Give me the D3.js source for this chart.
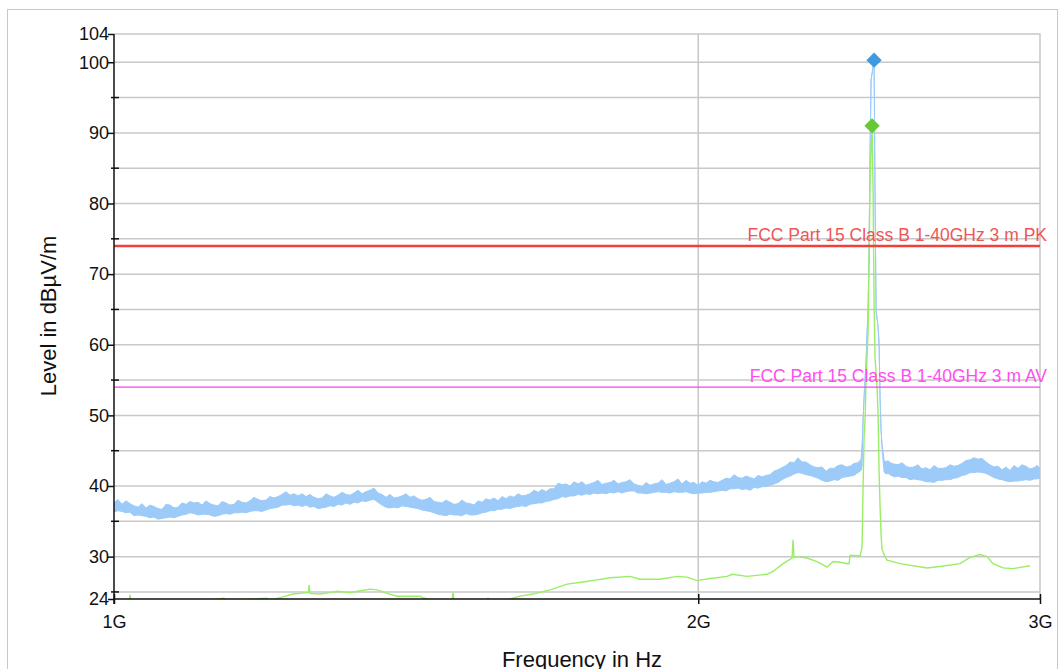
<!DOCTYPE html>
<html>
<head>
<meta charset="utf-8">
<script src="https://cdn.jsdelivr.net/npm/d3@7"></script>
<style>
  body { margin: 0; background: #fff; }
  svg text { font-family: "Liberation Sans", Arial, sans-serif; }
</style>
</head>
<body>
<svg class="canvas"></svg>
<script>
// *** DATA ***
// peak trace (blue): [frequency MHz, upper edge, lower edge] of the noisy band, dBuV/m
var peakTrace = [
  [1000.0, 37.6, 36.3], [1004.7, 38.1, 36.5], [1009.5, 37.4, 36.4], [1014.3, 37.9, 36.2],
  [1019.2, 37.5, 36.3], [1024.0, 37.2, 35.8], [1028.9, 37.0, 35.9], [1033.8, 37.5, 35.8],
  [1038.7, 36.9, 35.7], [1043.6, 37.3, 35.5], [1048.6, 37.1, 35.6], [1053.6, 36.8, 35.3],
  [1058.6, 36.7, 35.4], [1063.6, 37.4, 35.5], [1068.7, 37.3, 35.6], [1073.8, 36.9, 35.5],
  [1078.9, 37.0, 35.7], [1084.0, 37.6, 35.9], [1089.2, 37.4, 36.0], [1094.4, 37.8, 36.2],
  [1099.6, 37.6, 36.1], [1104.8, 37.7, 35.9], [1110.0, 37.3, 36.0], [1115.3, 37.9, 36.0],
  [1120.6, 37.5, 35.9], [1126.0, 37.3, 35.7], [1131.3, 37.2, 35.8], [1136.7, 37.8, 36.0],
  [1142.1, 37.6, 36.1], [1147.5, 37.3, 36.0], [1153.0, 37.4, 36.2], [1158.5, 38.0, 36.2],
  [1164.0, 37.7, 36.3], [1169.5, 37.6, 36.2], [1175.1, 37.9, 36.4], [1180.7, 38.4, 36.5],
  [1186.3, 38.1, 36.5], [1191.9, 37.9, 36.4], [1197.6, 38.0, 36.6], [1203.3, 38.5, 36.8],
  [1209.0, 38.3, 36.9], [1214.8, 38.5, 37.0], [1220.6, 38.8, 37.3], [1226.4, 39.2, 37.3],
  [1232.2, 38.7, 37.4], [1238.1, 38.9, 37.2], [1244.0, 38.6, 37.3], [1249.9, 38.9, 37.1],
  [1255.8, 38.5, 37.3], [1261.8, 38.8, 37.0], [1267.8, 38.4, 37.1], [1273.8, 38.2, 36.8],
  [1279.9, 38.3, 36.9], [1286.0, 38.9, 37.0], [1292.1, 38.6, 37.2], [1298.2, 38.4, 37.1],
  [1304.4, 38.7, 37.4], [1310.6, 39.1, 37.3], [1316.9, 38.8, 37.6], [1323.1, 38.7, 37.4],
  [1329.4, 39.0, 37.7], [1335.7, 39.4, 37.6], [1342.1, 38.9, 37.9], [1348.5, 39.2, 37.8],
  [1354.9, 39.4, 38.0], [1361.3, 39.7, 38.1], [1367.8, 39.0, 37.7], [1374.3, 38.8, 37.3],
  [1380.9, 38.4, 37.0], [1387.4, 38.8, 36.9], [1394.0, 38.3, 37.0], [1400.6, 38.4, 36.9],
  [1407.3, 38.6, 37.2], [1414.0, 38.9, 37.1], [1420.8, 38.4, 37.0], [1427.5, 38.6, 36.9],
  [1434.3, 38.2, 36.8], [1441.1, 38.0, 36.6], [1448.0, 38.1, 36.5], [1454.9, 38.4, 36.4],
  [1461.8, 37.8, 36.2], [1468.8, 37.7, 36.0], [1475.8, 37.6, 35.9], [1482.8, 38.0, 35.8],
  [1489.8, 37.7, 36.0], [1496.9, 37.4, 35.9], [1504.0, 37.5, 35.9], [1511.2, 38.0, 35.8],
  [1518.4, 37.6, 36.1], [1525.6, 37.5, 35.9], [1532.9, 37.3, 35.9], [1540.2, 37.9, 36.0],
  [1547.5, 37.7, 36.2], [1554.8, 38.2, 36.3], [1562.2, 38.0, 36.5], [1569.6, 38.3, 36.5],
  [1577.1, 37.9, 36.7], [1584.6, 38.5, 36.7], [1592.2, 38.2, 36.9], [1599.7, 38.6, 36.8],
  [1607.3, 38.4, 37.0], [1615.0, 38.9, 37.1], [1622.7, 38.6, 37.2], [1630.4, 38.7, 37.1],
  [1638.1, 38.9, 37.4], [1645.9, 39.4, 37.5], [1653.8, 39.1, 37.6], [1661.6, 39.5, 37.6],
  [1669.5, 39.2, 37.8], [1677.5, 39.6, 37.9], [1685.5, 39.6, 38.1], [1693.5, 40.4, 38.2],
  [1701.5, 40.2, 38.5], [1709.6, 40.3, 38.4], [1717.8, 40.0, 38.6], [1725.9, 40.6, 38.6],
  [1734.1, 40.3, 38.8], [1742.4, 40.6, 38.7], [1750.7, 40.1, 38.9], [1759.0, 40.3, 38.8],
  [1767.4, 40.5, 39.0], [1775.8, 40.8, 38.9], [1784.2, 40.2, 39.0], [1792.7, 40.4, 38.9],
  [1801.3, 40.5, 39.1], [1809.8, 40.8, 39.0], [1818.4, 40.3, 39.2], [1827.1, 40.5, 39.0],
  [1835.8, 40.6, 39.2], [1844.5, 40.9, 39.3], [1853.3, 40.3, 39.3], [1862.1, 40.1, 39.0],
  [1870.9, 39.9, 39.0], [1879.8, 40.5, 38.9], [1888.8, 40.1, 39.0], [1897.8, 40.3, 39.1],
  [1906.8, 40.4, 39.2], [1915.9, 40.9, 39.1], [1925.0, 40.2, 39.1], [1934.2, 40.4, 39.0],
  [1943.4, 40.6, 39.2], [1952.6, 41.0, 39.1], [1961.9, 40.3, 39.1], [1971.2, 40.8, 39.2],
  [1980.6, 40.4, 39.0], [1990.0, 40.5, 38.9], [1999.5, 40.1, 39.0], [2009.0, 40.6, 39.0],
  [2018.6, 40.4, 39.1], [2028.2, 40.8, 39.1], [2037.8, 40.6, 39.2], [2047.5, 40.5, 39.3],
  [2057.3, 40.8, 39.4], [2067.1, 41.1, 39.3], [2076.9, 41.0, 39.6], [2086.8, 41.6, 39.6],
  [2096.7, 41.2, 39.7], [2106.7, 41.1, 39.5], [2116.7, 41.4, 39.6], [2126.8, 41.2, 39.4],
  [2136.9, 41.0, 39.8], [2147.1, 41.5, 39.7], [2157.3, 41.3, 39.9], [2167.5, 41.5, 39.9],
  [2177.8, 41.6, 40.1], [2188.2, 42.1, 40.3], [2198.6, 42.3, 40.5], [2209.1, 42.6, 40.9],
  [2219.6, 42.9, 41.2], [2230.1, 43.4, 41.4], [2240.7, 43.3, 41.7], [2251.4, 44.0, 41.9],
  [2262.1, 43.4, 41.8], [2272.9, 43.4, 41.6], [2283.7, 43.0, 41.5], [2294.6, 42.7, 41.3],
  [2305.5, 42.6, 41.1], [2316.5, 42.7, 40.8], [2327.5, 42.1, 40.6], [2338.6, 42.5, 40.7],
  [2349.7, 42.5, 40.9], [2360.9, 42.9, 40.8], [2372.1, 43.0, 41.2], [2383.4, 42.7, 41.3],
  [2394.7, 42.8, 41.4], [2406.1, 43.2, 41.5], [2417.6, 43.3, 41.9], [2426.2, 43.8, 42.2],
  // carrier
  [2429.1, 46.0, 42.8], [2432.0, 49.3, 49.3], [2434.9, 52.6, 52.6], [2440.7, 57.8, 57.8],
  [2443.6, 61.7, 61.7], [2446.5, 64.9, 64.9], [2449.4, 73.4, 73.4], [2452.3, 87.6, 87.6],
  [2455.2, 97.5, 97.5], [2463.9, 100.3, 100.3], [2466.9, 80.5, 80.5], [2469.8, 64.9, 64.9],
  [2475.7, 62.5, 62.5], [2478.6, 60.2, 60.2], [2481.6, 52.2, 52.2], [2484.5, 47.9, 47.9],
  [2487.5, 45.8, 45.2],
  [2493.4, 43.7, 42.0], [2499.3, 43.4, 41.7], [2505.2, 43.6, 41.8], [2511.2, 43.3, 41.6],
  [2523.0, 43.1, 41.3], [2534.8, 43.0, 41.4], [2546.9, 43.3, 41.2], [2559.0, 42.8, 41.2],
  [2571.2, 42.6, 40.9], [2583.4, 42.7, 41.0], [2595.7, 43.0, 40.9], [2608.0, 42.4, 40.8],
  [2620.4, 42.6, 40.6], [2632.9, 42.3, 40.6], [2645.4, 42.9, 40.5], [2658.0, 42.5, 40.8],
  [2670.7, 42.5, 40.8], [2683.4, 42.6, 40.9], [2696.2, 43.0, 40.9], [2709.0, 42.8, 41.1],
  [2721.9, 42.9, 41.2], [2734.8, 43.2, 41.5], [2747.8, 43.6, 41.6], [2760.9, 43.7, 41.9],
  [2774.0, 44.0, 41.9], [2787.2, 43.8, 42.0], [2800.5, 43.9, 41.9], [2813.8, 43.4, 41.8],
  [2827.2, 43.0, 41.5], [2840.6, 42.7, 41.2], [2854.1, 42.8, 41.0], [2867.7, 42.3, 40.9],
  [2881.4, 42.7, 40.7], [2895.1, 42.2, 40.6], [2908.9, 42.9, 40.7], [2922.7, 42.5, 40.7],
  [2936.6, 43.0, 40.8], [2950.6, 42.8, 40.9], [2964.6, 42.4, 40.8], [2978.7, 42.6, 41.0],
  [2989.3, 42.9, 41.0], [3000.0, 42.5, 41.1]
];

// average trace (green), frequency in MHz / level in dBuV/m
var avgFreq = [
  1000.0, 1014.3, 1018.0, 1019.2, 1020.4, 1056.1, 1107.4, 1139.4, 1142.1, 1199.0,
  1201.9, 1210.5, 1222.0, 1236.6, 1246.9, 1257.3, 1259.6, 1260.3, 1261.8, 1276.9,
  1292.1, 1302.9, 1323.1, 1342.1, 1354.9, 1366.2, 1382.5, 1399.0, 1420.8, 1437.7,
  1442.8, 1454.9, 1493.3, 1495.1, 1496.9, 1556.6, 1558.5, 1560.3, 1590.2, 1599.7,
  1618.8, 1644.0, 1677.5, 1711.7, 1744.4, 1773.7, 1801.3, 1844.5, 1866.5, 1911.3,
  1950.3, 1973.5, 1997.1, 2028.2, 2069.5, 2081.8, 2119.2, 2170.1, 2185.6, 2211.7,
  2235.4, 2238.1, 2240.7, 2248.6, 2275.5, 2302.7, 2330.3, 2346.9, 2366.5, 2386.2,
  2391.9, 2394.7, 2423.4, 2429.1, 2432.0, 2434.9, 2437.8, 2440.7, 2446.5, 2449.4,
  2452.3, 2458.1, 2461.0, 2463.9, 2466.9, 2472.7, 2475.7, 2478.6, 2481.6, 2484.5,
  2487.5, 2493.4, 2502.0, 2540.9, 2623.6, 2664.4, 2728.3, 2760.9, 2793.9, 2817.2,
  2837.3, 2871.1, 2905.4, 2964.7
];
var avgLevel = [
  23.6, 23.7, 23.8, 24.6, 23.8, 23.6, 23.7, 24.1, 23.8, 24.1,
  23.9, 24.0, 24.3, 24.7, 24.8, 24.9, 24.9, 26.0, 24.8, 24.7,
  24.9, 25.1, 24.9, 25.2, 25.4, 25.3, 24.8, 24.4, 24.4, 24.4,
  24.2, 23.9, 23.9, 24.9, 23.9, 23.9, 24.1, 23.9, 23.9, 24.0,
  24.4, 24.7, 25.3, 26.1, 26.4, 26.7, 27.0, 27.2, 26.8, 26.8,
  27.2, 27.1, 26.6, 26.9, 27.2, 27.5, 27.2, 27.5, 27.9, 29.0,
  29.8, 32.4, 29.9, 30.0, 29.8, 29.3, 28.5, 29.3, 29.2, 29.0,
  29.0, 30.2, 30.1, 31.4, 40.0, 47.0, 49.3, 55.0, 62.0, 72.0,
  84.0, 91.0, 82.0, 66.0, 58.0, 54.0, 50.0, 42.0, 37.0, 33.0,
  31.0, 30.3, 29.5, 29.0, 28.4, 28.6, 29.0, 29.9, 30.3, 30.0,
  29.0, 28.4, 28.3, 28.7
];

// peak markers
var markerFreq = [2463.9, 2458.1];
var markerLevel = [100.3, 91.0];
var markerColor = ["#3f9be0", "#66c933"];

// limit lines
var limitLevel = [74, 54];
var limitLabel = ["FCC Part 15 Class B 1-40GHz 3 m PK", "FCC Part 15 Class B 1-40GHz 3 m AV"];

// axes
var xTicks = [1000, 2000, 3000];
var yLabelTicks = [24, 30, 40, 50, 60, 70, 80, 90, 100, 104];
var yMinorTicks = [25, 35, 45, 55, 65, 75, 85, 95];
var yGridLines = [25, 30, 35, 40, 45, 50, 55, 60, 65, 70, 75, 80, 85, 90, 95, 100];

// *** SVG STUFF ***
var width = 1063;
var height = 669;
var plotLeft = 114, plotRight = 1040, plotTop = 34, plotBottom = 599;

var x = d3.scaleLog().domain([1000, 3000]).range([plotLeft, plotRight]);
var y = d3.scaleLinear().domain([24, 104]).range([plotBottom, plotTop]);

var svg = d3.select(".canvas")
  .attr("width", width)
  .attr("height", height);

// outer frame
svg.append("rect")
  .attr("x", 7.5).attr("y", 9.5)
  .attr("width", 1050).attr("height", 700)
  .attr("fill", "none")
  .attr("stroke", "#c8c8c8");

svg.append("clipPath").attr("id", "plot")
  .append("rect")
  .attr("x", plotLeft).attr("y", plotTop)
  .attr("width", plotRight - plotLeft).attr("height", plotBottom - plotTop);

// grid
var grid = svg.append("g").attr("class", "grid");
grid.selectAll("line.h")
  .data(yGridLines)
  .enter()
    .append("line")
    .attr("x1", plotLeft).attr("x2", plotRight)
    .attr("y1", function(d) { return y(d); })
    .attr("y2", function(d) { return y(d); })
    .attr("stroke", "#c8c8c8")
    .attr("stroke-width", 1.5);

grid.append("line")
  .attr("x1", x(2000)).attr("x2", x(2000))
  .attr("y1", plotTop).attr("y2", plotBottom)
  .attr("stroke", "#c8c8c8").attr("stroke-width", 1.5);

// plot border top + right
grid.append("path")
  .attr("d", "M" + plotLeft + "," + plotTop + "H" + plotRight + "V" + plotBottom)
  .attr("fill", "none")
  .attr("stroke", "#c8c8c8").attr("stroke-width", 1.5);

// limit lines
var limits = svg.append("g").attr("class", "limits");
limits.selectAll("line")
  .data(limitLevel)
  .enter()
    .append("line")
    .attr("x1", plotLeft).attr("x2", plotRight)
    .attr("y1", function(d) { return y(d); })
    .attr("y2", function(d) { return y(d); })
    .attr("stroke", function(d, i) { return i == 0 ? "#f0403c" : "#ff3cf5"; })
    .attr("stroke-width", function(d, i) { return i == 0 ? 2.5 : 1.2; });

// traces
var traces = svg.append("g").attr("clip-path", "url(#plot)");

var band = d3.area()
  .x(function(d) { return x(d[0]); })
  .y0(function(d) { return y(d[2]); })
  .y1(function(d) { return y(d[1]); });

traces.append("path")
  .datum(peakTrace)
  .attr("d", band)
  .attr("fill", "#9ccbf9")
  .attr("stroke", "#9ccbf9")
  .attr("stroke-width", 1)
  .attr("stroke-linejoin", "miter");

var avgData = avgFreq.map(function(f, i) { return { f: f, v: avgLevel[i] }; });
var line = d3.line()
  .x(function(d) { return x(d.f); })
  .y(function(d) { return y(d.v); });

traces.append("path")
  .datum(avgData)
  .attr("d", line)
  .attr("fill", "none")
  .attr("stroke", "#99ee66")
  .attr("stroke-width", 1.4);

// limit labels (drawn over traces)
limits.raise();
limits.selectAll("text")
  .data(limitLevel)
  .enter()
    .append("text")
    .attr("x", 1047)
    .attr("y", function(d) { return y(d) - 5; })
    .attr("text-anchor", "end")
    .attr("font-size", "17.5px")
    .attr("fill", function(d, i) { return i == 0 ? "#f25555" : "#ff4ef0"; })
    .text(function(d, i) { return limitLabel[i]; });

// markers
var diamond = d3.symbol().type(d3.symbolDiamond2).size(150);
svg.selectAll("path.marker")
  .data(markerFreq)
  .enter()
    .append("path")
    .attr("class", "marker")
    .attr("d", diamond)
    .attr("transform", function(d, i) {
      return "translate(" + x(d) + "," + y(markerLevel[i]) + ")";
    })
    .attr("fill", function(d, i) { return markerColor[i]; });

// y axis
var yAxis = svg.append("g")
  .attr("transform", "translate(" + plotLeft + ",0)")
  .call(d3.axisLeft(y)
    .tickValues(yLabelTicks)
    .tickFormat(d3.format("d"))
    .tickSize(6)
    .tickSizeOuter(0)
    .tickPadding(-1));
yAxis.select(".domain").remove();
yAxis.selectAll("text").attr("font-size", "18px").attr("fill", "#111").attr("font-family", "Liberation Sans, Arial, sans-serif");
yAxis.selectAll(".tick line").attr("stroke", "#111").attr("stroke-width", 1.5);

yAxis.selectAll("line.minor")
  .data(yMinorTicks)
  .enter()
    .append("line")
    .attr("class", "minor")
    .attr("x1", -3).attr("x2", 5)
    .attr("y1", function(d) { return y(d); })
    .attr("y2", function(d) { return y(d); })
    .attr("stroke", "#111").attr("stroke-width", 1.5);

yAxis.append("line")
  .attr("x1", 0).attr("x2", 0)
  .attr("y1", plotTop).attr("y2", plotBottom + 5)
  .attr("stroke", "#111").attr("stroke-width", 1.5);

// x axis
var xAxis = svg.append("g")
  .attr("transform", "translate(0," + plotBottom + ")")
  .call(d3.axisBottom(x)
    .tickValues(xTicks)
    .tickFormat(function(d) { return (d / 1000) + "G"; })
    .tickSize(5)
    .tickSizeOuter(0)
    .tickPadding(11));
xAxis.select(".domain").remove();
xAxis.selectAll(".tick line").attr("y1", -5).attr("stroke", "#111").attr("stroke-width", 1.5);
xAxis.selectAll("text").attr("font-size", "18px").attr("fill", "#111").attr("font-family", "Liberation Sans, Arial, sans-serif");
xAxis.append("line")
  .attr("x1", plotLeft).attr("x2", plotRight)
  .attr("y1", 0).attr("y2", 0)
  .attr("stroke", "#111").attr("stroke-width", 1.5);

// axis titles
svg.append("text")
  .attr("transform", "translate(56,316) rotate(-90)")
  .attr("text-anchor", "middle")
  .attr("font-size", "22px")
  .attr("fill", "#111")
  .text("Level in dBµV/m");

svg.append("text")
  .attr("x", 582).attr("y", 667)
  .attr("text-anchor", "middle")
  .attr("font-size", "22px")
  .attr("fill", "#111")
  .text("Frequency in Hz");
</script>
</body>
</html>
